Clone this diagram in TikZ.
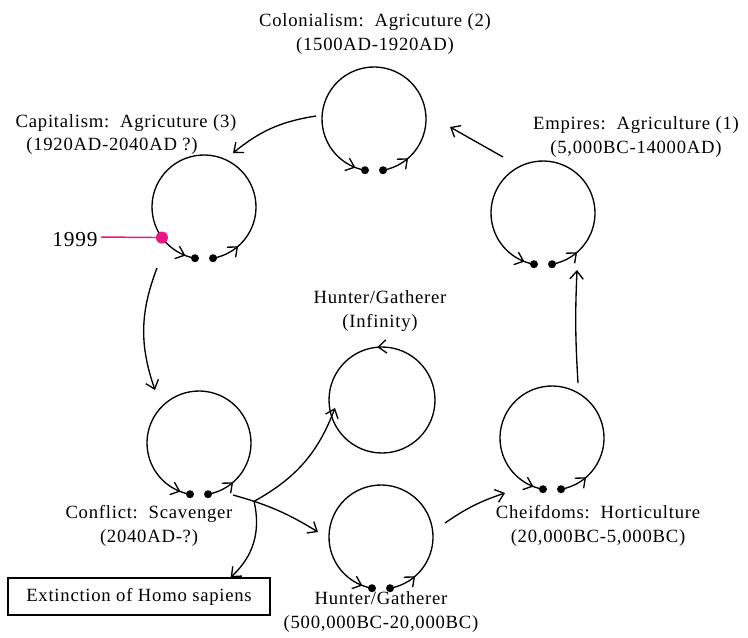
\documentclass[tikz,border=0pt]{standalone}
\usepackage{fontspec}
\setmainfont{Liberation Serif}[LetterSpace=4]
\usetikzlibrary{arrows.meta,calc,decorations.markings}
\definecolor{pinkc}{RGB}{235,20,130}
\tikzset{
  tip/.style={-{Straight Barb[length=6pt,width=10pt]}},
  conn/.style={draw,line width=1pt,tip},
  ring/.style={circle,minimum size=78pt,inner sep=0pt},
  lbl/.style={align=center,font=\fontsize{14}{17.5}\selectfont,inner sep=0pt},
  cycline/.style={line width=1pt,postaction=decorate,decoration={markings,
     mark=at position 0.091 with {\arrow{Straight Barb[length=6pt,width=10pt]}},
     mark=at position 0.968 with {\arrow{Straight Barb[length=6pt,width=10pt]}}}},
  infline/.style={line width=1pt,postaction=decorate,decoration={markings,
     mark=at position 0.264 with {\arrow{Straight Barb[length=6pt,width=10pt]}}}},
}
\newcommand\mycyc[1]{%
  \draw[cycline] ($(#1)+(-80:52)$) arc[start angle=-80,end angle=260,radius=52];
  \fill ($(#1)+(-80:52)$) circle[radius=4];
  \fill ($(#1)+(260:52)$) circle[radius=4];
}
\begin{document}
\begin{tikzpicture}[x=0.75pt,y=0.75pt]
\useasboundingbox (0,0) rectangle (748,-637);
% rings
\node[ring] (col) at (374,-119) {};
\node[ring] (cap) at (204,-207) {};
\node[ring] (emp) at (543,-213) {};
\node[ring] (conf) at (199,-443) {};
\node[ring] (inf) at (382,-400) {};
\node[ring] (chf) at (552,-438) {};
\node[ring] (hgb) at (381,-537) {};
\mycyc{col}
\mycyc{cap}
\mycyc{emp}
\mycyc{conf}
\mycyc{chf}
\mycyc{hgb}
\draw[infline] ($(inf)+(0:53)$) arc[start angle=0,end angle=360,radius=53];
% labels
\node[lbl] (colT) at (375,-34) {Colonialism:\ \ Agricuture (2)\\(1500AD-1920AD)};
\node[lbl] (capT1) at (126,-123) {Capitalism:\ \ Agricuture (3)};
\node[lbl] (capT2) at (112,-146) {(1920AD-2040AD ?)};
\node[lbl] (empT) at (636,-137) {Empires:\ \ Agriculture (1)\\(5,000BC-14000AD)};
\node[lbl] (infT) at (380,-311) {Hunter/Gatherer\\(Infinity)};
\node[lbl] (confT) at (149,-526) {Conflict:\ \ Scavenger\\(2040AD-?)};
\node[lbl] (chfT) at (598,-526) {Cheifdoms:\ \ Horticulture\\(20,000BC-5,000BC)};
\node[lbl] (hgbT) at (381,-612) {Hunter/Gatherer\\(500,000BC-20,000BC)};
\node[draw,line width=1pt,minimum width=196.5pt,minimum height=27.75pt,inner sep=0pt,
      font=\fontsize{14}{17}\selectfont] (ext) at (139,-596.5) {Extinction of Homo sapiens};
% 1999 marker
\node[font=\fontsize{16}{18}\selectfont,inner sep=0pt] (yr) at (75,-240) {1999};
\node[circle,fill=pinkc,inner sep=0pt,minimum size=9pt] (pd) at ($(cap)+(216:52)$) {};
\draw[pinkc,line width=1.1pt] (yr.east) ++(3,3) -- (pd);
% connectors
\draw[conn] ($(emp)+(-40,56)$) -- ($(col)+(76,-8)$);
\draw[conn] ($(col)+(-58,3)$) to[bend right=15] ($(cap)+(29,54)$);
\draw[conn] ($(cap)+(-47,-61)$) to[bend right=20] ($(conf)+(-44,53)$);
\draw[conn] ($(conf)+(34,-52)$) to[bend left=8] coordinate[pos=0.22] (jn) ($(hgb)+(-63,5)$);
\draw[conn] (jn) to[bend right=20] ($(inf)+(-47,-8)$);
\draw[conn] (jn) to[bend left=30] ($(ext.north east)+(-40,0)$);
\draw[conn] ($(hgb)+(64,14)$) to[bend left=8] ($(chf)+(-47,-55)$);
\draw[conn] ($(chf)+(26,55)$) to[bend left=3] ($(emp)+(34,-57)$);
\end{tikzpicture}
\end{document}
